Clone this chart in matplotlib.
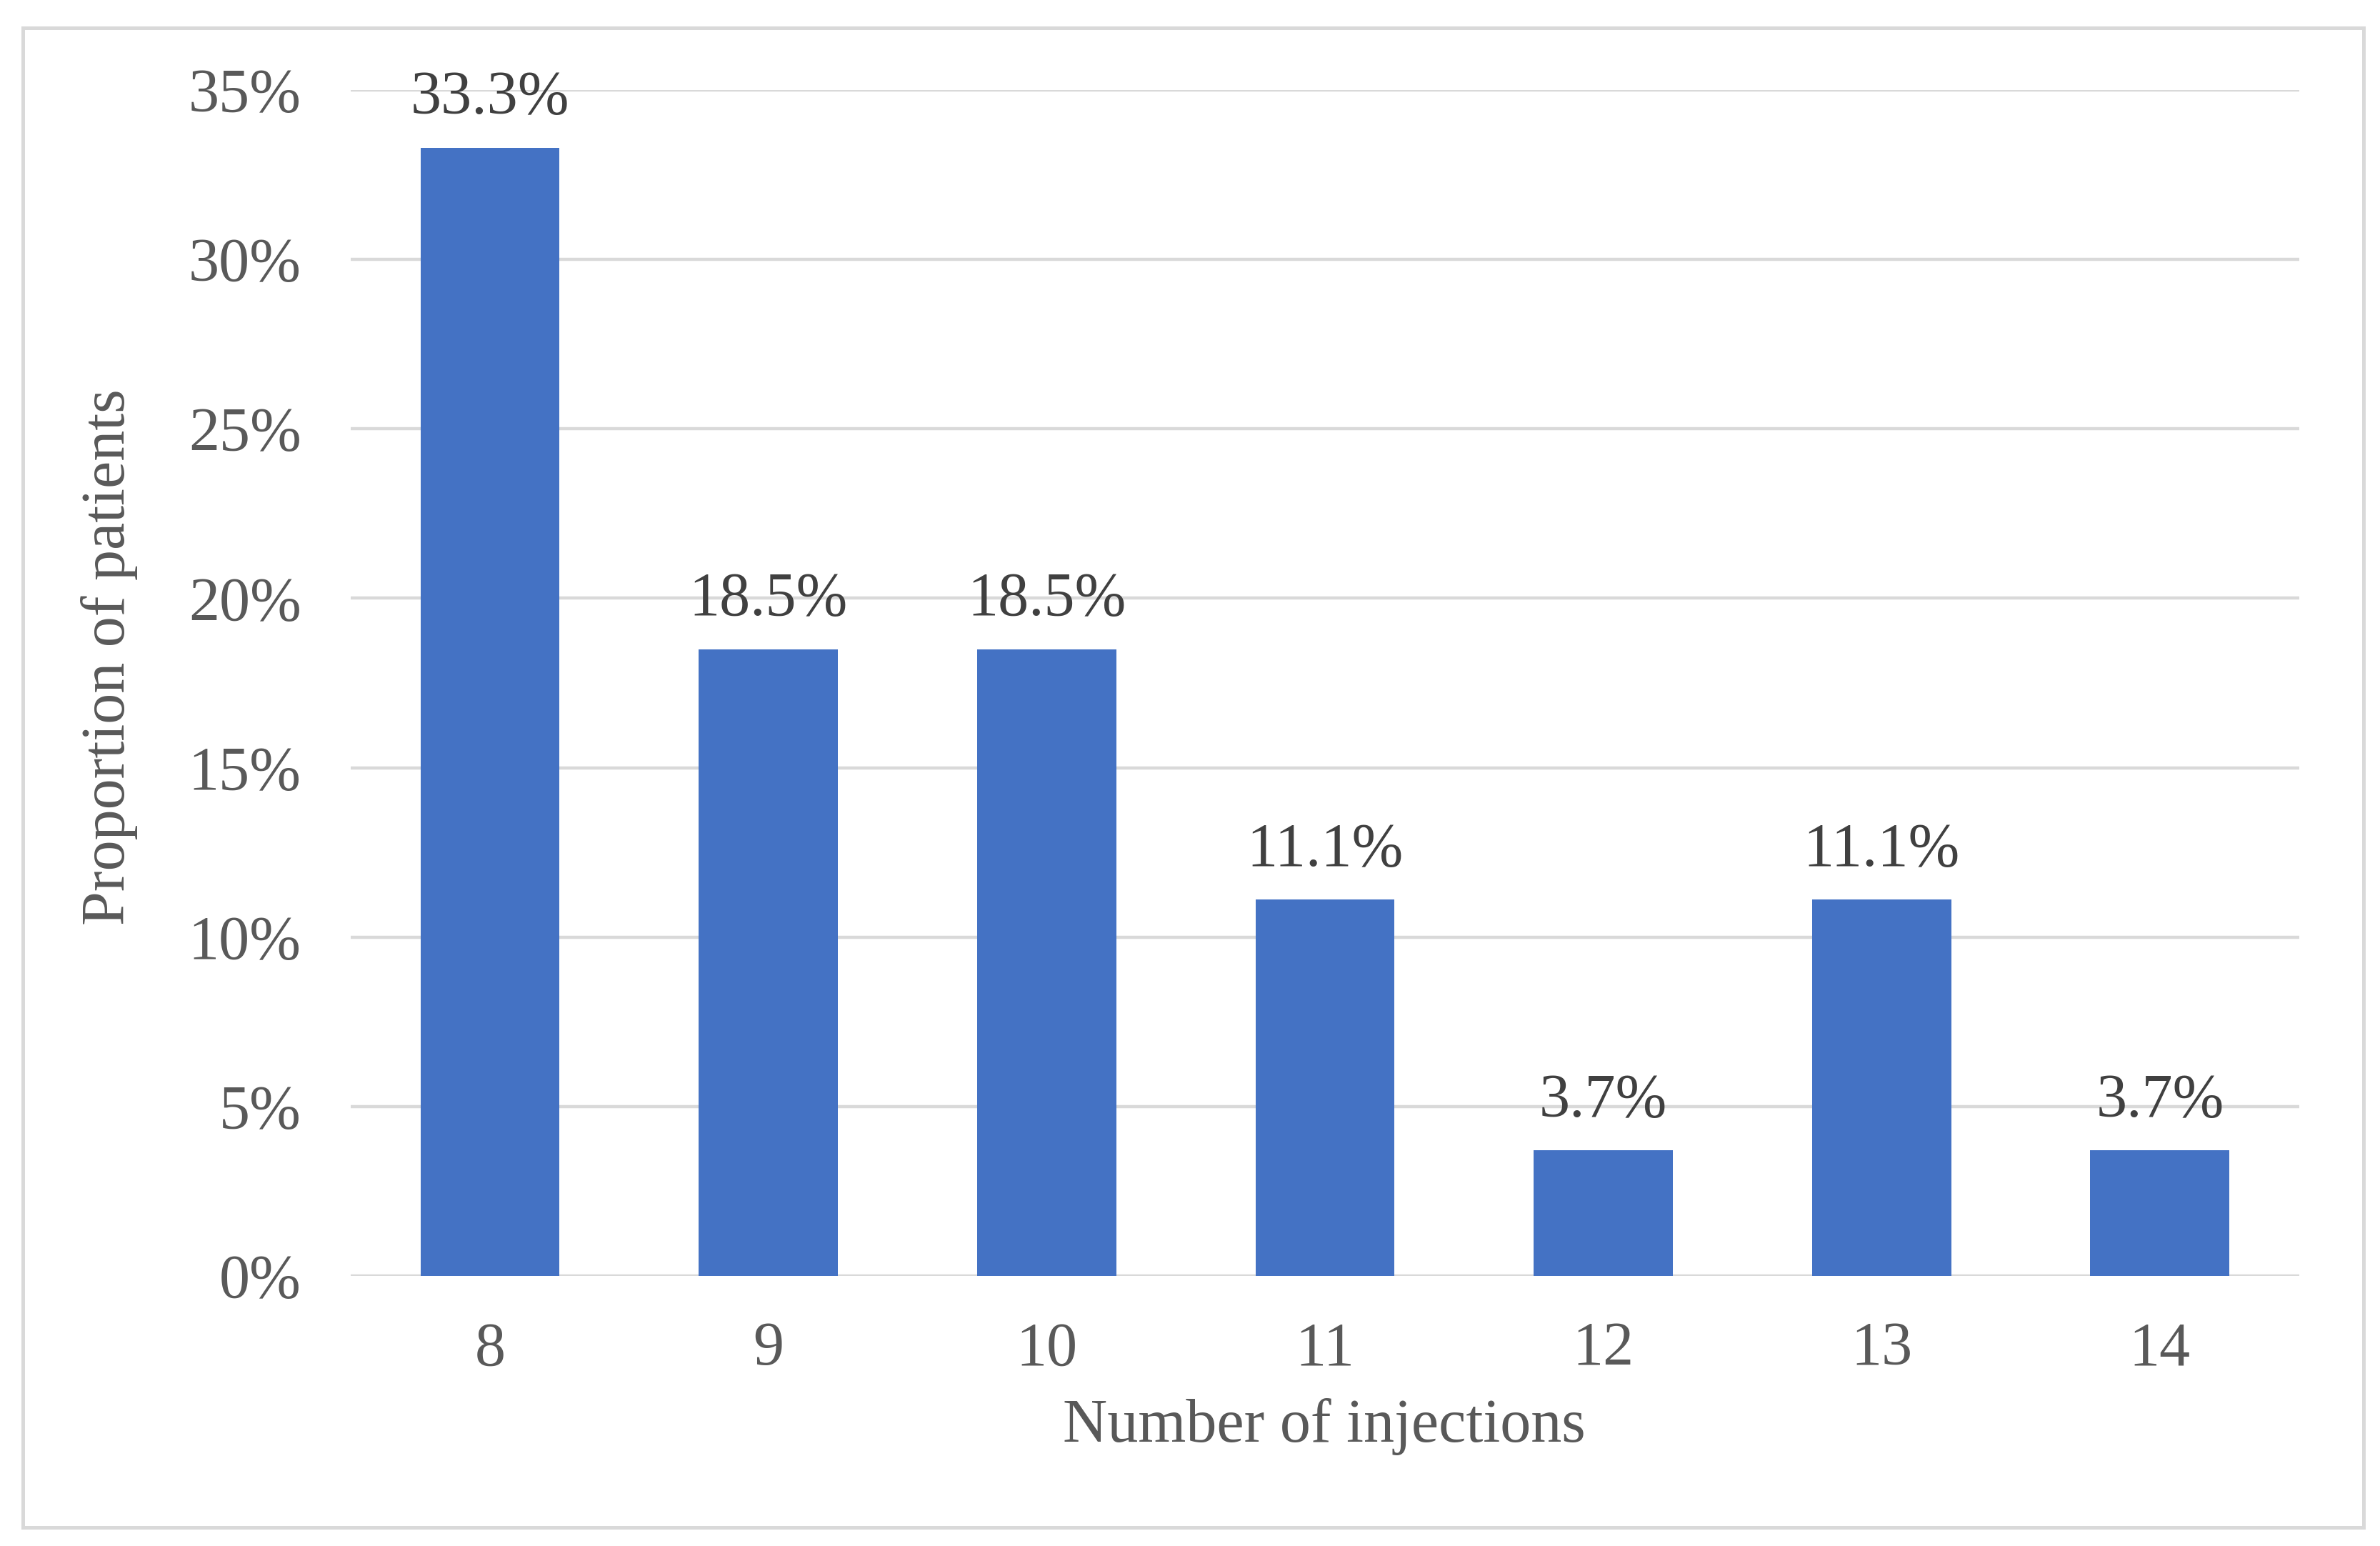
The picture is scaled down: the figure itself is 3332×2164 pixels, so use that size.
import matplotlib
matplotlib.use('Agg')
from matplotlib import pyplot as plt
from matplotlib.patches import Rectangle

# data
injections = ['8', '9', '10', '11', '12', '13', '14']
proportion = [33.3, 18.5, 18.5, 11.1, 3.7, 11.1, 3.7]
y_ticks = [0, 5, 10, 15, 20, 25, 30, 35]

plt.rcParams['font.family'] = ['Liberation Serif', 'DejaVu Serif']
fs = 31

fig = plt.figure(figsize=(16.66, 10.82), dpi=200, facecolor='white')
ax = fig.add_axes([0.1474, 0.1747, 0.966 - 0.1474, 0.9418 - 0.1747])

x = range(len(injections))
ax.bar(x, proportion, width=0.5, color='#4472C4', zorder=3)
for xi, v in zip(x, proportion):
    ax.annotate('%.1f%%' % v, (xi, v), xytext=(0, 17), textcoords='offset points',
                ha='center', va='baseline', fontsize=fs, color='#404040')

ax.set_xlim(-0.5, len(injections) - 0.5)
ax.set_ylim(0, 35)
ax.set_yticks(y_ticks)
ax.set_yticklabels(['%d%%' % t for t in y_ticks])
ax.set_xticks(list(x))
ax.set_xticklabels(injections)
ax.tick_params(axis='both', length=0, labelsize=fs, labelcolor='#595959')
ax.tick_params(axis='x', pad=23)
ax.tick_params(axis='y', pad=25)
ax.yaxis.grid(True, color='#d9d9d9', linewidth=1.6, zorder=0)
for s in ax.spines.values():
    s.set_visible(False)

fig.text(0.5565, 0.077, 'Number of injections', ha='center', va='center',
         fontsize=fs, color='#595959')
fig.text(0.046, 0.575, 'Proportion of patients', ha='center', va='center',
         rotation=90, fontsize=fs, color='#595959')

fig.patches.append(Rectangle((0.0096, 0.0118), 0.993 - 0.0096, 0.982 - 0.0118,
                             transform=fig.transFigure, fill=False,
                             edgecolor='#d9d9d9', linewidth=1.8))

plt.savefig('out.png', facecolor=fig.get_facecolor(), dpi=200)
